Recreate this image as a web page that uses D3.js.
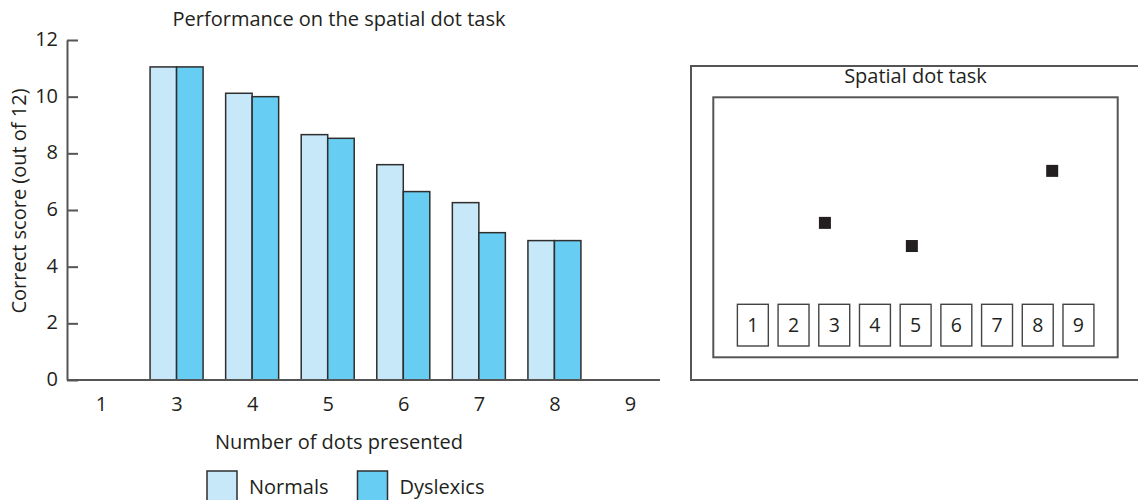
<!DOCTYPE html>
<html>
<head>
<meta charset="utf-8">
<script src="https://cdn.jsdelivr.net/npm/d3@7"></script>
<style>
  html, body { margin: 0; padding: 0; background: #fff; }
  svg { display: block; }
  text { font-family: "Open Sans", "Noto Sans", sans-serif; fill: #231f20; }
</style>
</head>
<body>
<svg id="chart" width="1138" height="500"></svg>
<script>
// Number of dots presented (there is no 2-dot condition)
const dotCounts = ["1", "3", "4", "5", "6", "7", "8", "9"];
const seriesNames = ["Normals", "Dyslexics"];
// Mean correct score (out of 12) per condition
const normalsScores   = { "3": 11.05, "4": 10.12, "5": 8.66, "6": 7.6,  "7": 6.26, "8": 4.92 };
const dyslexicsScores = { "3": 11.05, "4": 10.0,  "5": 8.53, "6": 6.65, "7": 5.2,  "8": 4.92 };
const yTicks = [0, 2, 4, 6, 8, 10, 12];

// Task display: numbered response boxes and the presented dots (grid units 0-100)
const responseBoxes = ["1", "2", "3", "4", "5", "6", "7", "8", "9"];
const presentedDots = [
  { gx: 27.6, gy: 48.3 },
  { gx: 49.1, gy: 57.2 },
  { gx: 83.8, gy: 28.3 }
];

const colors = { Normals: "#c6e8f8", Dyslexics: "#68cdf3" };
const FONT = 20;

const svg = d3.select("#chart");

// ---------- Bar chart ----------
const plot = { left: 67, right: 660, top: 40, bottom: 380 };

const x = d3.scalePoint().domain(dotCounts).range([101, 630]);
const y = d3.scaleLinear().domain([0, 12]).range([plot.bottom, plot.top]);
const xSeries = d3.scaleBand().domain(seriesNames).range([-26.5, 26.5]);

const rows = dotCounts
  .filter(d => normalsScores[d] !== undefined)
  .flatMap(d => [
    { count: d, series: "Normals", value: normalsScores[d] },
    { count: d, series: "Dyslexics", value: dyslexicsScores[d] }
  ]);

svg.append("g")
  .selectAll("rect")
  .data(rows)
  .join("rect")
  .attr("x", d => x(d.count) + xSeries(d.series))
  .attr("y", d => y(d.value))
  .attr("width", xSeries.bandwidth())
  .attr("height", d => y(0) - y(d.value))
  .attr("fill", d => colors[d.series])
  .attr("stroke", "#2e2e2e")
  .attr("stroke-width", 1.5);

// y axis with inward ticks
const yAxis = svg.append("g")
  .attr("transform", `translate(${plot.left},0)`)
  .call(d3.axisLeft(y).tickValues(yTicks).tickSize(-11).tickSizeOuter(0).tickPadding(9));
yAxis.select(".domain").attr("stroke", "#555").attr("stroke-width", 2);
yAxis.selectAll(".tick line").attr("stroke", "#555").attr("stroke-width", 2);
yAxis.selectAll(".tick text")
  .style("font-size", FONT + "px").attr("fill", "#231f20").attr("dy", "0.27em");

// x axis: baseline line plus category labels
svg.append("line")
  .attr("x1", plot.left).attr("x2", plot.right)
  .attr("y1", y(0)).attr("y2", y(0))
  .attr("stroke", "#555").attr("stroke-width", 2);
const xAxis = svg.append("g")
  .attr("transform", `translate(0,${y(0)})`)
  .call(d3.axisBottom(x).tickSize(0).tickPadding(16.5));
xAxis.select(".domain").remove();
xAxis.selectAll(".tick text").style("font-size", FONT + "px").attr("fill", "#231f20");

// titles
svg.append("text")
  .attr("x", 339).attr("y", 26)
  .attr("text-anchor", "middle")
  .style("font-size", FONT + "px")
  .text("Performance on the spatial dot task");

svg.append("text")
  .attr("x", 339).attr("y", 449)
  .attr("text-anchor", "middle")
  .style("font-size", FONT + "px")
  .text("Number of dots presented");

svg.append("text")
  .attr("transform", "translate(26,201) rotate(-90)")
  .attr("text-anchor", "middle")
  .style("font-size", FONT + "px")
  .text("Correct score (out of 12)");

// legend
const legendX = d3.scaleOrdinal().domain(seriesNames).range([207, 357.5]);
const legend = svg.append("g")
  .selectAll("g")
  .data(seriesNames)
  .join("g")
  .attr("transform", d => `translate(${legendX(d)},471)`);
legend.append("rect")
  .attr("width", 30).attr("height", 30)
  .attr("fill", d => colors[d])
  .attr("stroke", "#2e2e2e").attr("stroke-width", 1.5);
legend.append("text")
  .attr("x", 42).attr("y", 23)
  .style("font-size", FONT + "px")
  .text(d => d);

// ---------- Task display ----------
const outer = { left: 691, top: 66, bottom: 380 };
const inner = { left: 713.3, top: 97.3, right: 1117.7, bottom: 357.3 };

svg.append("rect")
  .attr("x", outer.left).attr("y", outer.top)
  .attr("width", 600).attr("height", outer.bottom - outer.top)
  .attr("fill", "none").attr("stroke", "#555").attr("stroke-width", 2);

svg.append("text")
  .attr("x", (inner.left + inner.right) / 2).attr("y", 83)
  .attr("text-anchor", "middle")
  .style("font-size", FONT + "px")
  .text("Spatial dot task");

svg.append("rect")
  .attr("x", inner.left).attr("y", inner.top)
  .attr("width", inner.right - inner.left).attr("height", inner.bottom - inner.top)
  .attr("fill", "none").attr("stroke", "#555").attr("stroke-width", 2);

const gx = d3.scaleLinear().domain([0, 100]).range([inner.left, inner.right]);
const gy = d3.scaleLinear().domain([0, 100]).range([inner.top, inner.bottom]);
const dotSize = 12;

svg.append("g")
  .selectAll("rect")
  .data(presentedDots)
  .join("rect")
  .attr("x", d => gx(d.gx) - dotSize / 2)
  .attr("y", d => gy(d.gy) - dotSize / 2)
  .attr("width", dotSize).attr("height", dotSize)
  .attr("fill", "#231f20");

const boxX = d3.scaleBand().domain(responseBoxes)
  .range([732.5, 1098.8]).paddingInner(0.24).paddingOuter(0.12);
const boxTop = 304.3, boxH = 41.7;

const boxes = svg.append("g")
  .selectAll("g")
  .data(responseBoxes)
  .join("g")
  .attr("transform", d => `translate(${boxX(d)},${boxTop})`);
boxes.append("rect")
  .attr("width", boxX.bandwidth()).attr("height", boxH)
  .attr("fill", "#fff").attr("stroke", "#444").attr("stroke-width", 1.4);
boxes.append("text")
  .attr("x", boxX.bandwidth() / 2).attr("y", 27.8)
  .attr("text-anchor", "middle")
  .style("font-size", "19.5px")
  .text(d => d);
</script>
</body>
</html>
